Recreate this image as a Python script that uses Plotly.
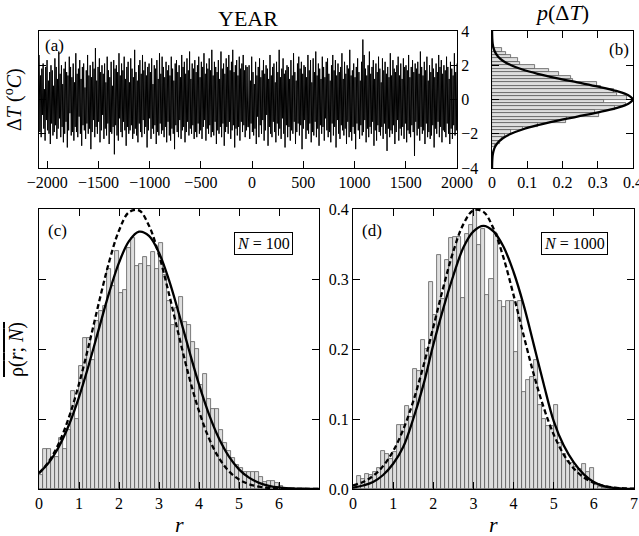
import numpy as np
import plotly.graph_objects as go

# ---- data ----
# (a) temperature anomaly series, read off as a dense zig-zag (~6 years apart)
dT = [
    2.6, -1.9, 1.4, -2.2, 1.8, -0.9, 2.1, -1.7, 0.6, -2.4, 1.9, -1.2, 2.3, -1.8, 1.1, -2.0, 1.6, -2.6, 2.0, -1.4,
    1.7, -2.1, 0.8, -1.9, 2.4, -1.5, 1.9, -2.3, 1.2, -1.7, 2.8, -1.1, 1.5, -2.2, 2.0, -1.6, 0.9, -2.5, 1.8, -2.0,
    2.2, -1.3, 1.6, -2.8, 1.4, -1.8, 2.5, -0.8, 1.9, -2.1, 1.3, -1.9, 2.1, -2.4, 1.0, -1.6, 2.7, -1.9, 1.5, -2.2,
    1.8, -1.0, 2.3, -2.0, 1.2, -2.7, 1.9, -1.5, 2.1, -1.8, 0.7, -2.3, 1.7, -1.4, 2.6, -2.0, 1.4, -1.7, 2.0, -2.9,
    1.3, -1.9, 2.2, -1.2, 1.8, -2.2, 3.0, -1.6, 1.1, -2.0, 1.9, -1.3, 2.4, -2.5, 1.6, -1.8, 2.0, -0.9, 1.5, -2.3,
    2.1, -1.7, 1.0, -2.1, 2.5, -1.4, 1.7, -2.6, 1.3, -1.9, 2.2, -2.0, 0.8, -1.6, 2.3, -3.2, 1.8, -1.5, 2.0, -2.1,
    1.6, -2.4, 2.7, -1.1, 1.4, -1.9, 2.1, -2.2, 1.7, -1.3, 2.5, -1.8, 1.2, -2.7, 1.9, -1.6, 2.2, -2.0, 1.0, -1.8,
    2.4, -1.5, 1.8, -2.3, 1.3, -2.0, 2.9, -1.7, 1.6, -2.1, 1.1, -2.5, 2.0, -1.4, 2.3, -1.9, 1.5, -2.2, 2.6, -1.2,
    1.7, -2.0, 2.2, -1.6, 1.4, -2.8, 1.9, -1.8, 2.1, -1.1, 1.6, -2.3, 2.4, -1.7, 0.9, -2.0, 2.0, -1.5, 1.8, -2.6,
    2.3, -1.9, 1.2, -2.1, 2.7, -1.4, 1.5, -2.0, 2.5, -1.8, 1.9, -2.2, 1.3, -1.6, 2.2, -2.5, 1.7, -1.3, 2.0, -2.1,
    1.4, -2.4, 2.5, -1.7, 1.8, -2.0, 1.1, -2.9, 2.1, -1.5, 2.3, -1.9, 1.6, -2.2, 2.0, -1.2, 1.3, -2.3, 2.6, -1.8,
    1.9, -1.6, 2.2, -2.5, 1.5, -1.9, 2.4, -1.3, 1.7, -2.1, 2.8, -1.7, 1.2, -2.0, 2.1, -1.5, 1.8, -2.3, 2.3, -1.9,
    1.6, -2.2, 2.0, -1.4, 2.5, -2.0, 1.3, -1.8, 2.2, -2.3, 1.9, -1.6, 2.7, -1.2, 1.5, -2.4, 2.1, -1.7, 1.8, -2.0,
    2.4, -1.5, 1.7, -2.2, 2.9, -1.9, 1.4, -2.1, 2.2, -1.3, 1.9, -2.6, 1.6, -1.8, 2.3, -2.0, 1.2, -1.6, 2.8, -2.2,
    1.8, -1.4, 2.1, -2.7, 1.5, -1.9, 2.4, -1.6, 1.9, -2.0, 2.6, -1.3, 1.7, -2.3, 2.2, -1.8, 2.9, -1.5, 1.6, -2.8,
    2.0, -1.7, 2.3, -2.1, 1.4, -1.6, 2.5, -2.4, 1.8, -1.3, 2.1, -1.9, 2.6, -1.5, 1.7, -2.2, 2.0, -1.8, 1.9, -1.6,
    -1.6, 2.0, -2.3, 1.1, -1.4, 2.5, -1.9, 1.6, -2.1, 0.9, -1.7, 2.2, -2.6, 1.4, -1.0, 1.9, -2.2, 2.4, -1.5, 1.3,
    -2.0, 1.7, -1.2, 2.3, -2.4, 1.5, -1.8, 2.0, -0.9, 1.8, -2.7, 1.2, -1.6, 2.6, -2.0, 1.4, -2.2, 1.9, -1.3, 2.1,
    -1.9, 1.0, -2.5, 2.2, -1.4, 1.6, -2.1, 2.9, -1.7, 1.3, -2.3, 1.8, -1.1, 2.4, -2.0, 1.5, -2.8, 1.7, -1.5, 2.0,
    -2.2, 1.9, -1.6, 1.2, -2.4, 2.3, -1.8, 1.4, -2.0, 2.7, -1.3, 1.6, -2.6, 1.1, -1.9, 2.1, -1.4, 2.5, -2.1, 1.8,
    -1.5, 2.2, -2.9, 1.5, -1.7, 2.0, -1.2, 1.9, -2.3, 1.3, -1.8, 2.6, -2.0, 1.7, -1.4, 2.3, -2.5, 1.0, -1.9, 2.4,
    -2.1, 1.6, -1.3, 2.8, -2.2, 1.4, -1.7, 2.1, -2.7, 1.8, -1.5, 1.2, -2.0, 2.5, -1.6, 1.9, -2.4, 1.3, -1.1, 2.2,
    -1.8, 2.4, -2.2, 1.5, -1.9, 1.1, -2.5, 2.0, -1.4, 2.6, -2.1, 1.7, -1.6, 2.3, -2.8, 1.4, -1.2, 2.1, -2.0, 1.6,
    -2.3, 1.9, -1.5, 2.7, -1.8, 1.2, -2.1, 2.2, -1.7, 1.5, -2.6, 2.0, -1.3, 1.8, -2.2, 2.9, -1.9, 1.4, -2.4, 1.7,
    -1.6, 2.1, -2.0, 1.3, -2.9, 1.9, -1.4, 2.4, -1.8, 1.6, -2.3, 1.1, -1.5, 2.2, -2.1, 3.5, -1.9, 2.6, -1.2, 1.8,
    -2.5, 1.4, -1.7, 2.0, -2.2, 2.8, -1.6, 1.5, -2.0, 1.9, -1.3, 2.3, -2.7, 1.2, -1.8, 2.1, -2.4, 1.6, -1.5, 2.5,
    -1.9, 1.8, -2.1, 1.0, -1.6, 2.4, -2.3, 1.7, -1.4, 2.2, -2.0, 1.5, -3.0, 1.9, -1.7, 1.3, -2.2, 2.7, -1.8, 1.4,
    -2.0, 2.3, -1.5, 1.8, -2.6, 1.6, -1.9, 2.0, -1.2, 2.5, -2.4, 1.4, -1.7, 2.1, -2.1, 1.2, -1.6, 2.4, -2.3, 1.9,
    -1.4, 2.0, -2.5, 1.7, -1.8, 2.6, -2.0, 1.3, -2.2, 1.9, -1.5, 2.3, -1.9, 1.6, -3.3, 2.1, -1.3, 1.8, -2.1, 2.2,
    -1.7, 1.5, -2.4, 2.8, -1.6, 1.9, -2.0, 1.4, -1.8, 2.2, -2.6, 1.7, -1.4, 2.5, -2.2, 1.1, -1.9, 2.0, -2.3, 1.6,
    -2.1, 2.4, -1.5, 1.8, -2.8, 1.3, -1.7, 2.1, -2.0, 1.6, -1.3, 2.6, -2.2, 1.9, -1.6, 2.3, -2.5, 1.5, -1.8, 2.0,
    -1.9, 1.7, -2.2, 2.5, -1.4, 1.9, -2.0, 1.2, -2.6, 2.2, -1.7, 1.8, -2.3, 1.4, -1.5, 2.7, -2.1, 1.6, -1.8, 2.1,
]
year_start, year_end = -2078, 2000

# (b) histogram of dT (bin width 0.2)
b_centers = [2.9, 2.7, 2.5, 2.3, 2.1, 1.9, 1.7, 1.5, 1.3, 1.1, 0.9, 0.7, 0.5, 0.3, 0.1,
             -0.1, -0.3, -0.5, -0.7, -0.9, -1.1, -1.3, -1.5, -1.7, -1.9, -2.1, -2.3, -2.5, -2.7]
b_counts = [0.027, 0.040, 0.053, 0.074, 0.080, 0.122, 0.163, 0.190, 0.225, 0.230, 0.298, 0.310,
            0.346, 0.355, 0.384, 0.317, 0.379, 0.349, 0.291, 0.303, 0.212, 0.210, 0.130, 0.089,
            0.055, 0.036, 0.027, 0.022, 0.008]
b_curve_t = [-4.0, -3.75, -3.5, -3.25, -3.0, -2.75, -2.5, -2.25, -2.0, -1.75, -1.5, -1.25, -1.0,
             -0.75, -0.5, -0.25, 0.0, 0.25, 0.5, 0.75, 1.0, 1.25, 1.5, 1.75, 2.0, 2.25, 2.5,
             2.75, 3.0, 3.25, 3.5, 3.75, 4.0]
b_curve_p = [0.0001, 0.0004, 0.0009, 0.0020, 0.0044, 0.0091, 0.0175, 0.0317, 0.0540, 0.0863,
             0.1295, 0.1826, 0.2420, 0.3011, 0.3521, 0.3867, 0.3989, 0.3867, 0.3521, 0.3011,
             0.2420, 0.1826, 0.1295, 0.0863, 0.0540, 0.0317, 0.0175, 0.0091, 0.0044, 0.0020,
             0.0009, 0.0004, 0.0001]

# (c) N = 100, bins of width 0.1 starting at r = 0
c_hist = [0.020, 0.057, 0.057, 0.046, 0.046, 0.073, 0.057, 0.085, 0.140, 0.100,
          0.176, 0.216, 0.216, 0.184, 0.240, 0.254, 0.262, 0.315, 0.290, 0.340,
          0.280, 0.284, 0.344, 0.358, 0.318, 0.322, 0.332, 0.318, 0.339, 0.315,
          0.351, 0.306, 0.268, 0.234, 0.258, 0.275, 0.239, 0.235, 0.210, 0.200,
          0.149, 0.164, 0.128, 0.115, 0.115, 0.085, 0.066, 0.054, 0.044, 0.035,
          0.030, 0.024, 0.024, 0.024, 0.024, 0.017, 0.010, 0.012, 0.012, 0.008,
          0.004, 0.002, 0.001, 0.001, 0.0, 0.0, 0.0, 0.0, 0.0]
# (d) N = 1000
d_hist = [0.004, 0.018, 0.014, 0.022, 0.020, 0.024, 0.030, 0.054, 0.050, 0.043,
          0.053, 0.091, 0.091, 0.118, 0.103, 0.172, 0.168, 0.213, 0.200, 0.296,
          0.249, 0.334, 0.272, 0.327, 0.358, 0.360, 0.360, 0.273, 0.365, 0.377,
          0.400, 0.349, 0.372, 0.277, 0.300, 0.365, 0.268, 0.260, 0.268, 0.268,
          0.196, 0.268, 0.139, 0.156, 0.160, 0.184, 0.120, 0.100, 0.090, 0.090,
          0.120, 0.066, 0.050, 0.040, 0.037, 0.032, 0.028, 0.036, 0.024, 0.030,
          0.006, 0.003, 0.002, 0.001, 0.001, 0.0, 0.0, 0.0, 0.0, 0.0]

r_curve = [0.0, 0.25, 0.5, 0.75, 1.0, 1.25, 1.5, 1.75, 2.0, 2.25, 2.5, 2.75, 3.0, 3.25, 3.5,
           3.75, 4.0, 4.25, 4.5, 4.75, 5.0, 5.25, 5.5, 5.75, 6.0, 6.25, 6.5, 6.75, 7.0]
c_solid = [0.0227, 0.0381, 0.0608, 0.0918, 0.1314, 0.1783, 0.2294, 0.2797, 0.3233, 0.3541,
           0.3676, 0.3617, 0.3374, 0.2983, 0.2500, 0.1985, 0.1494, 0.1066, 0.0721, 0.0462,
           0.0281, 0.0162, 0.0088, 0.0046, 0.0022, 0.0010, 0.0005, 0.0002, 0.0001]
c_dashed = [0.0225, 0.0397, 0.0658, 0.1026, 0.1501, 0.2065, 0.2668, 0.3238, 0.3692, 0.3955,
            0.3980, 0.3762, 0.3341, 0.2787, 0.2184, 0.1608, 0.1112, 0.0723, 0.0441, 0.0253,
            0.0136, 0.0069, 0.0033, 0.0015, 0.0006, 0.0002, 0.0001, 0.0, 0.0]
d_solid = [0.002, 0.005, 0.010, 0.020, 0.036, 0.060, 0.100, 0.148, 0.206, 0.258,
           0.305, 0.345, 0.368, 0.376, 0.368, 0.346, 0.310, 0.263, 0.207, 0.150,
           0.097, 0.062, 0.038, 0.021, 0.010, 0.004, 0.0015, 0.0005, 0.0001]
d_dashed = [0.0051, 0.0100, 0.0187, 0.0327, 0.0541, 0.0847, 0.1253, 0.1750, 0.2311, 0.2882,
            0.3397, 0.3784, 0.3982, 0.3959, 0.3720, 0.3302, 0.2770, 0.2196, 0.1644, 0.1164,
            0.0778, 0.0492, 0.0293, 0.0166, 0.0088, 0.0044, 0.0021, 0.0009, 0.0004]

W, H = 639, 536
FONT = "Liberation Serif"


def px(x):
    return x / W


def py(y):
    return 1 - y / H


years = np.linspace(year_start, year_end, len(dT))
bin_w = 0.1
c_r = [bin_w * k + bin_w / 2 for k in range(len(c_hist))]
d_r = [bin_w * k + bin_w / 2 for k in range(len(d_hist))]

fig = go.Figure()
bar_style = dict(marker=dict(color="#dedede", line=dict(color="#5a5a5a", width=0.8)), showlegend=False)
solid = dict(color="black", width=2.3)
dashed = dict(color="black", width=2.3, dash="5px,3px")

# (a)
fig.add_trace(go.Scatter(x=years, y=dT, mode="lines", line=dict(color="black", width=1, simplify=False),
                         xaxis="x", yaxis="y", showlegend=False))
# (b)
fig.add_trace(go.Bar(x=b_counts, y=b_centers, orientation="h", width=0.2, xaxis="x2", yaxis="y2", **bar_style))
fig.add_trace(go.Scatter(x=b_curve_p, y=b_curve_t, mode="lines", line=dict(shape="spline", **solid),
                         xaxis="x2", yaxis="y2", showlegend=False))
# (c)
fig.add_trace(go.Bar(x=c_r, y=c_hist, width=bin_w, xaxis="x3", yaxis="y3", **bar_style))
fig.add_trace(go.Scatter(x=r_curve, y=c_dashed, mode="lines", line=dict(shape="spline", **dashed),
                         xaxis="x3", yaxis="y3", showlegend=False))
fig.add_trace(go.Scatter(x=r_curve, y=c_solid, mode="lines", line=dict(shape="spline", **solid),
                         xaxis="x3", yaxis="y3", showlegend=False))
# (d)
fig.add_trace(go.Bar(x=d_r, y=d_hist, width=bin_w, xaxis="x4", yaxis="y4", **bar_style))
fig.add_trace(go.Scatter(x=r_curve, y=d_dashed, mode="lines", line=dict(shape="spline", **dashed),
                         xaxis="x4", yaxis="y4", showlegend=False))
fig.add_trace(go.Scatter(x=r_curve, y=d_solid, mode="lines", line=dict(shape="spline", **solid),
                         xaxis="x4", yaxis="y4", showlegend=False))

ax = dict(showline=True, linecolor="black", linewidth=1.3, mirror="ticks", ticks="inside",
          ticklen=7, tickcolor="black", tickwidth=1.2, showgrid=False, zeroline=False,
          automargin=False, ticklabeloverflow="allow",
          tickfont=dict(family=FONT, size=16, color="black"))

top_dom = [py(168), py(31)]
bot_dom = [py(489), py(209)]

fig.update_layout(
    width=W, height=H, autosize=False, margin=dict(l=0, r=0, t=0, b=0, pad=0, autoexpand=False),
    paper_bgcolor="white", plot_bgcolor="white", bargap=0,
    font=dict(family=FONT, color="black"),
    xaxis=dict(ax, domain=[px(39), px(457)], range=[-2080, 2000], anchor="y", mirror=True,
               tickvals=[-2000, -1500, -1000, -500, 0, 500, 1000, 1500, 2000]),
    yaxis=dict(ax, domain=top_dom, range=[-4, 4], anchor="x", side="right",
               tickvals=[-4, -2, 0, 2, 4]),
    xaxis2=dict(ax, domain=[px(492), px(633)], range=[0, 0.4], anchor="y2",
                tickvals=[0, 0.1, 0.2, 0.3, 0.4], ticktext=["0", "0.1", "0.2", "0.3", "0.4"]),
    yaxis2=dict(ax, domain=top_dom, range=[-4, 4], anchor="x2", side="right",
                tickvals=[-2, 0, 2], showticklabels=False),
    xaxis3=dict(ax, domain=[px(39), px(319)], range=[0, 7], anchor="y3",
                tickvals=[0, 1, 2, 3, 4, 5, 6]),
    yaxis3=dict(ax, domain=bot_dom, range=[0, 0.4], anchor="x3",
                tickvals=[0, 0.1, 0.2, 0.3, 0.4], showticklabels=False),
    xaxis4=dict(ax, domain=[px(353), px(634)], range=[0, 7], anchor="y4",
                tickvals=[0, 1, 2, 3, 4, 5, 6, 7]),
    yaxis4=dict(ax, domain=bot_dom, range=[0, 0.4], anchor="x4",
                tickvals=[0, 0.1, 0.2, 0.3, 0.4], tickformat=".1f"),
)


def label(text, x, y, size=16, angle=0, **kw):
    fig.add_annotation(text=text, x=px(x), y=py(y), xref="paper", yref="paper",
                       showarrow=False, textangle=angle, xanchor="center", yanchor="middle",
                       font=dict(family=FONT, size=size, color="black"), **kw)


label("YEAR", 248, 19, size=22)
label("<i>p</i>(Δ<i>T</i>)", 562, 13, size=22)
label("Δ<i>T</i> (<sup>o</sup><i>C</i>)", 14, 100, size=20, angle=-90)
label('<span style="text-decoration:overline">ρ(<i>r</i>; <i>N</i>)</span>', 16, 350, size=20, angle=-90)
label("<i>r</i>", 179, 524, size=22)
label("<i>r</i>", 493, 524, size=22)
label("(a)", 54, 46, size=17)
label("(b)", 619, 50, size=17)
label("(c)", 57, 230, size=17)
label("(d)", 372, 230, size=17)
label("<i>N</i> = 100", 263, 243, size=16, bordercolor="black", borderwidth=1, borderpad=2,
      bgcolor="white")
label("<i>N</i> = 1000", 574, 243, size=16, bordercolor="black", borderwidth=1, borderpad=2,
      bgcolor="white")

# page body margin would push the fixed-size figure off the window
fig.write_html("out.html", config={"displayModeBar": False},
               post_script="document.body.style.margin='0';")
